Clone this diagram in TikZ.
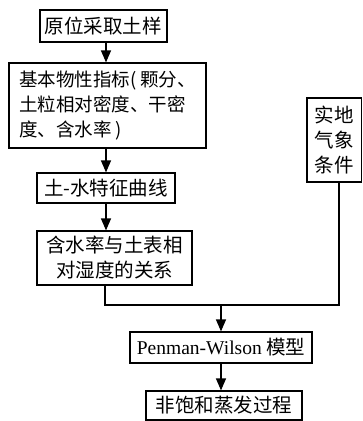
\documentclass[tikz,border=0pt]{standalone}
\usepackage{fontspec}
\setmainfont{Noto Sans CJK SC}
\newfontfamily\tnr{Liberation Serif}
\usetikzlibrary{arrows.meta}
\begin{document}
\begin{tikzpicture}[x=1pt,y=-1pt,
  box/.style={draw, line width=1.2pt, inner sep=0pt, align=left, font=\fontsize{19.5}{25}\selectfont},
  arr/.style={-{Triangle[length=12pt,width=10pt]}, line width=1.2pt},
  ln/.style={line width=1.2pt}]
\useasboundingbox (0,0) rectangle (363,421);
\node[box, minimum width=127pt, minimum height=32pt] (n1) at (103.5,26) {原位采取土样};
\node[box, minimum width=197pt, minimum height=85pt, font=\fontsize{18.5}{25}\selectfont] (n2) at (107.5,105.5) {基本物性指标( 颗分、\\土粒相对密度、干密\\度、含水率 )};
\node[box, minimum width=138pt, minimum height=30pt] (n3) at (106,188) {土-水特征曲线};
\node[box, minimum width=155pt, minimum height=54pt, align=center] (n4) at (114.5,258) {含水率与土表相\\对湿度的关系};
\node[box, minimum width=54.5pt, minimum height=84pt, align=center] (n5) at (334.25,140) {实地\\气象\\条件};
\node[box, minimum width=182pt, minimum height=31pt] (n6) at (221,347.5) {{\tnr\fontsize{19.5}{25}\selectfont Penman-Wilson} 模型};
\node[box, minimum width=156pt, minimum height=29pt] (n7) at (224,405.5) {非饱和蒸发过程};
\coordinate (ax) at (106,0);
\coordinate (bx) at (105,0);
\coordinate (cx) at (339,0);
\coordinate (j) at (221,305);
\draw[arr] (n1.south -| ax) -- (n2.north -| ax);
\draw[arr] (n2.south -| ax) -- (n3.north -| ax);
\draw[arr] (n3.south -| ax) -- (n4.north -| ax);
\draw[ln] (n4.south -| bx) |- (j) -| (n5.south -| cx);
\draw[arr] (j) -- (n6.north -| j);
\draw[arr] (n6.south -| j) -- (n7.north -| j);
\end{tikzpicture}
\end{document}
